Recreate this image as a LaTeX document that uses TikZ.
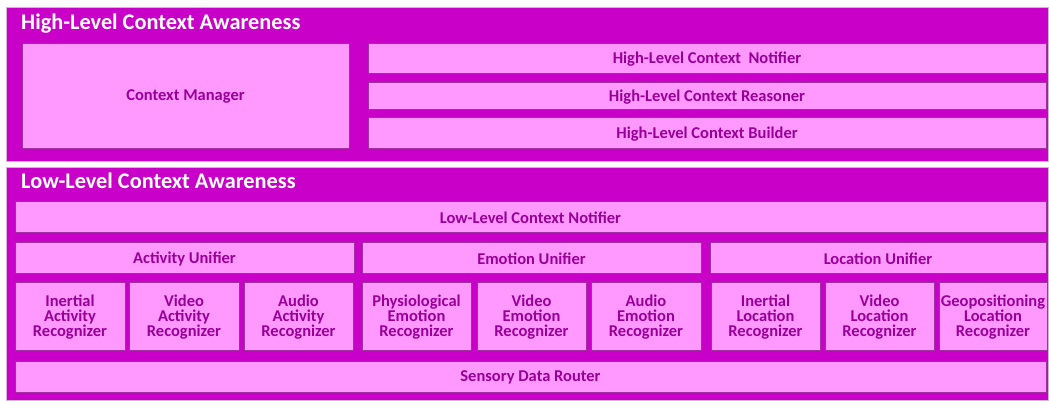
\documentclass[tikz,border=0pt]{standalone}
\usepackage{fontspec}
\setmainfont{Carlito}
\definecolor{outerfill}{HTML}{C800C8}
\definecolor{outerline}{HTML}{D8B0D8}
\definecolor{innerfill}{HTML}{FF99FF}
\definecolor{innerline}{HTML}{A030A0}
\definecolor{txt}{HTML}{990099}
\tikzset{
  layer/.style={draw=outerline, fill=outerfill, line width=0.8pt},
  title/.style={anchor=base west, text=white, font=\fontsize{22.3}{24}\selectfont\bfseries, inner sep=0pt},
  box/.style={draw=innerline, fill=innerfill, line width=0.7pt, inner sep=0pt, anchor=center},
  boxtext/.style={text=txt, align=center, font=\fontsize{16.5}{15}\selectfont\bfseries, inner sep=0pt, anchor=center},
}
\newcommand\bx[6]{\node[box, minimum width={(#4-#2)*1pt}, minimum height={(#5-#3)*1pt}] (#1) at ({(#2+#4)/2},{(#3+#5)/2}) {};
  \node[boxtext] (#1-t) at ([yshift=-1.3pt]#1.center) {#6};}
\begin{document}
\begin{tikzpicture}[x=1pt,y=-1pt]
\useasboundingbox (0,0) rectangle (1049,401);
\fill[white] (0,0) rectangle (1049,401);
% High-level layer
\draw[layer] (6,7) rectangle (1048,161);
\node[title] (hltitle) at (21,29.5) {High-Level Context Awareness};
\bx{cm}{22}{43}{349}{148}{Context Manager}
\bx{hln}{368}{43}{1046}{73}{High-Level Context\ \ Notifier}
\bx{hlr}{368}{82}{1046}{109}{High-Level Context Reasoner}
\bx{hlb}{368}{117}{1046}{148}{High-Level Context Builder}
% Low-level layer
\draw[layer] (6,167) rectangle (1048,400);
\node[title] (lltitle) at (21,188.5) {Low-Level Context Awareness};
\bx{lln}{15}{201}{1046}{232}{Low-Level Context Notifier}
\bx{au}{15}{242}{354}{273}{Activity Unifier}
\bx{eu}{362}{242}{701}{273}{Emotion Unifier}
\bx{lu}{710}{242}{1046}{273}{Location Unifier}
\bx{iar}{15}{282}{125}{350}{Inertial\\Activity\\Recognizer}
\bx{var}{129}{282}{239}{350}{Video\\Activity\\Recognizer}
\bx{aar}{244}{282}{353}{350}{Audio\\Activity\\Recognizer}
\bx{per}{362}{282}{471}{350}{Physiological\\Emotion\\Recognizer}
\bx{ver}{477}{282}{586}{350}{Video\\Emotion\\Recognizer}
\bx{aer}{591}{282}{701}{350}{Audio\\Emotion\\Recognizer}
\bx{ilr}{711}{282}{820}{350}{Inertial\\Location\\Recognizer}
\bx{vlr}{825}{282}{934}{350}{Video\\Location\\Recognizer}
\bx{glr}{939}{282}{1047}{350}{Geopositioning\\Location\\Recognizer}
\bx{sdr}{15}{361}{1046}{392}{Sensory Data Router}
\end{tikzpicture}
\end{document}
